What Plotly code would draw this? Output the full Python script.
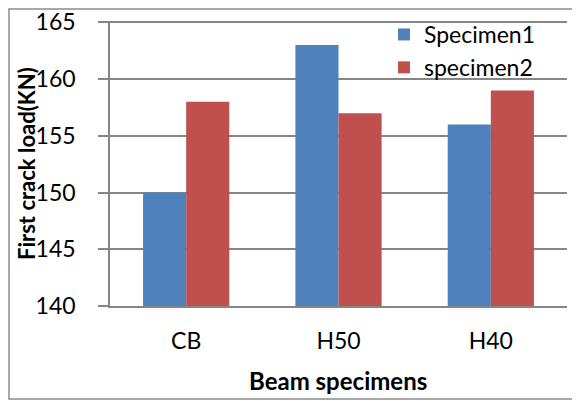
import plotly.graph_objects as go

categories = ["CB", "H50", "H40"]
specimen1 = [150, 163, 156]
specimen2 = [158, 157, 159]
series_names = ["Specimen1", "specimen2"]
y_ticks = [140, 145, 150, 155, 160, 165]

OFF = 8  # default page body margin of the html page
W, H = 580 - OFF, 401 - OFF
# plot area in screen pixels (top slightly above the 165 gridline so it is drawn)
PL, PR, PT, PB = 110, 567, 21, 306
L, R, T, B = PL - OFF, W - (PR - OFF), PT - OFF, H - (PB - OFF)
pw, ph = W - L - R, H - T - B
FONT = "Lato"

fig = go.Figure()
fig.add_trace(go.Bar(name=series_names[0], x=categories, y=specimen1,
                     marker=dict(color="#4F81BD", line=dict(width=0))))
fig.add_trace(go.Bar(name=series_names[1], x=categories, y=specimen2,
                     marker=dict(color="#C0504D", line=dict(width=0))))

def px_x(p):  # screen px -> paper
    return (p - PL) / pw

def px_y(p):
    return (PB - p) / ph

fig.update_layout(
    width=W, height=H,
    margin=dict(l=L, r=R, t=T, b=B, pad=0, autoexpand=False),
    paper_bgcolor="white", plot_bgcolor="white",
    barmode="group", bargap=0.434, bargroupgap=0,
    font=dict(family=FONT, size=23, color="#000000"),
    showlegend=True,
    legend=dict(x=px_x(384), y=px_y(13), xanchor="left", yanchor="top",
                bgcolor="rgba(0,0,0,0)", font=dict(size=23, family=FONT),
                tracegroupgap=0, itemclick=False),
    xaxis=dict(showgrid=False, showline=True, linecolor="#868686", linewidth=1.5,
               ticks="", tickfont=dict(size=23, family=FONT), ticklabelstandoff=14),
    yaxis=dict(range=[140, 165.12], tickvals=y_ticks, showgrid=True,
               gridcolor="#868686", gridwidth=1.5, showline=True,
               linecolor="#868686", linewidth=1.5, ticks="outside", ticklen=10,
               tickcolor="#868686", tickwidth=1.5, zeroline=False,
               ticklabeloverflow="allow",
               tickfont=dict(size=23, family=FONT), ticklabelstandoff=18),
    shapes=[dict(type="rect", xref="paper", yref="paper",
                 x0=px_x(OFF + 1), x1=px_x(590), y0=px_y(399), y1=px_y(OFF + 1),
                 line=dict(color="#8C8C8C", width=1.5), fillcolor="rgba(0,0,0,0)",
                 layer="below")],
    annotations=[
        dict(text="<b>First crack load(KN)</b>", xref="paper", yref="paper",
             x=px_x(26), y=px_y(164), xanchor="center", yanchor="middle",
             textangle=-90, showarrow=False, font=dict(size=22, family=FONT)),
        dict(text="<b>Beam specimens</b>", xref="paper", yref="paper",
             x=px_x(338), y=px_y(380), xanchor="center", yanchor="middle",
             showarrow=False, font=dict(size=24, family=FONT)),
    ],
)

fig.write_html("out.html")
